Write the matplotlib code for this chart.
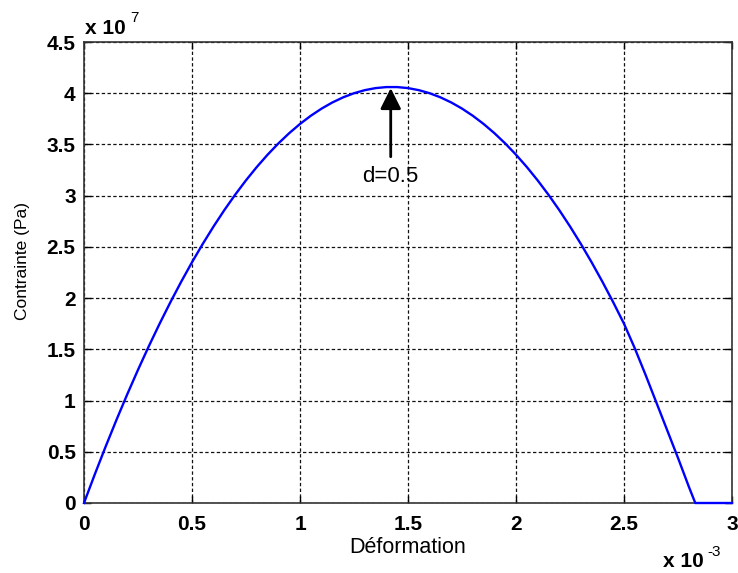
import matplotlib
matplotlib.use("Agg")
import matplotlib.pyplot as plt
from matplotlib.ticker import FixedLocator, FixedFormatter

# Strain (x 1e-3) and stress (x 1e7 Pa) for damage d = 0.5
strain = [0.00, 0.05, 0.10, 0.15, 0.20, 0.25, 0.30, 0.35, 0.40, 0.45,
          0.50, 0.55, 0.60, 0.65, 0.70, 0.75, 0.80, 0.85, 0.90, 0.95,
          1.00, 1.05, 1.10, 1.15, 1.20, 1.25, 1.30, 1.35, 1.40, 1.45,
          1.50, 1.55, 1.60, 1.65, 1.70, 1.75, 1.80, 1.85, 1.90, 1.95,
          2.00, 2.05, 2.10, 2.15, 2.20, 2.25, 2.30, 2.35, 2.40, 2.45,
          2.50, 2.55, 2.60, 2.65, 2.70, 2.75, 2.80, 2.83, 2.90, 3.00]
stress = [0.00, 0.28, 0.55, 0.81, 1.06, 1.30, 1.53, 1.75, 1.96, 2.16,
          2.35, 2.53, 2.70, 2.86, 3.01, 3.15, 3.28, 3.40, 3.51, 3.61,
          3.70, 3.78, 3.85, 3.91, 3.96, 4.00, 4.03, 4.05, 4.06, 4.06,
          4.05, 4.03, 4.00, 3.96, 3.91, 3.85, 3.78, 3.70, 3.61, 3.51,
          3.40, 3.28, 3.15, 3.01, 2.86, 2.70, 2.53, 2.35, 2.16, 1.96,
          1.75, 1.51, 1.25, 0.98, 0.71, 0.44, 0.16, 0.00, 0.00, 0.00]

x_ticks = [0, 0.5, 1, 1.5, 2, 2.5, 3]
x_tick_labels = ["0", "0.5", "1", "1.5", "2", "2.5", "3"]
y_ticks = [0, 0.5, 1, 1.5, 2, 2.5, 3, 3.5, 4, 4.5]
y_tick_labels = ["0", "0.5", "1", "1.5", "2", "2.5", "3", "3.5", "4", "4.5"]

peak_strain = 1.42
peak_stress = 4.05
arrow_tail = 3.38
note_pos = (1.42, 3.19)
note_text = "d=0.5"

plt.rcParams['font.family'] = ['Liberation Sans', 'DejaVu Sans']

W, H = 738, 573
fig = plt.figure(figsize=(W / 100, H / 100), dpi=100)
ax = fig.add_axes([84 / W, 70 / H, 648 / W, 461 / H])

ax.plot(strain, stress, color=(0, 0, 1), linewidth=1.7,
        solid_joinstyle='round', clip_on=False, zorder=3)

ax.set_xlim(0, 3)
ax.set_ylim(0, 4.5)
ax.xaxis.set_major_locator(FixedLocator(x_ticks))
ax.xaxis.set_major_formatter(FixedFormatter(x_tick_labels))
ax.yaxis.set_major_locator(FixedLocator(y_ticks))
ax.yaxis.set_major_formatter(FixedFormatter(y_tick_labels))

ax.grid(True, color='#111111', linestyle=(0, (2.7, 1.9)), linewidth=0.9)
ax.tick_params(direction='in', top=True, right=True, length=5,
               width=1.0, labelsize=15, colors='black')
ax.tick_params(axis='x', pad=9)
ax.tick_params(axis='y', pad=6)
for lab in ax.get_xticklabels() + ax.get_yticklabels():
    lab.set_fontweight('bold')
for sp in ax.spines.values():
    sp.set_linewidth(1.2)
    sp.set_color('#333333')

ax.set_xlabel("Déformation", fontsize=15.5)
ax.xaxis.set_label_coords(0.5, -0.074)
ax.set_ylabel("Contrainte (Pa)", fontsize=12.5)
ax.yaxis.set_label_coords(-0.083, 0.525)

# Arrow pointing at the peak, with its label underneath
ax.annotate("", xy=(peak_strain, peak_stress),
            xytext=(peak_strain, arrow_tail),
            arrowprops=dict(arrowstyle='-|>,head_length=0.7,head_width=0.35',
                            color='black', lw=2, mutation_scale=18,
                            shrinkA=0, shrinkB=0))
ax.text(note_pos[0], note_pos[1], note_text, fontsize=16,
        ha='center', va='center')

# Exponent markers
fig.text(85 / W, 1 - 34 / H, "x 10", fontsize=15, fontweight='bold',
         ha='left', va='baseline')
fig.text(130 / W, 1 - 22 / H, "7", fontsize=11, ha='left', va='baseline')
fig.text(663 / W, 1 - 567 / H, "x 10", fontsize=15, fontweight='bold',
         ha='left', va='baseline')
fig.text(707 / W, 1 - 556 / H, "-3", fontsize=11, ha='left',
         va='baseline')

fig.savefig("out.png", dpi=100)
